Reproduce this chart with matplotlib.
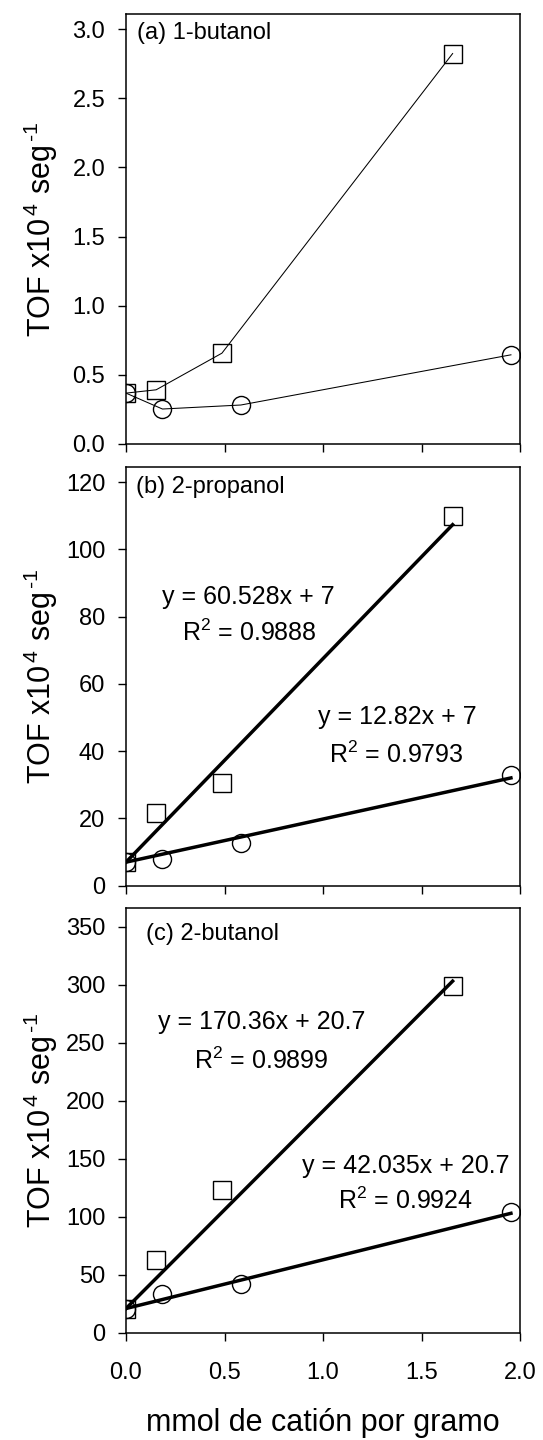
import matplotlib
matplotlib.use("Agg")
import matplotlib.pyplot as plt
import numpy as np

plt.rcParams["font.family"] = ["Liberation Sans", "DejaVu Sans"]
plt.rcParams["mathtext.fontset"] = "custom"
plt.rcParams["mathtext.rm"] = "Liberation Sans"
plt.rcParams["mathtext.it"] = "Liberation Sans"

# mmol de catión por gramo
x_sq = [0.0, 0.153, 0.487, 1.658]
x_ci = [0.0, 0.185, 0.583, 1.954]

# (a) 1-butanol
a_sq = [0.368, 0.392, 0.657, 2.824]
a_ci = [0.368, 0.253, 0.282, 0.645]

# (b) 2-propanol
b_sq = [7.0, 21.6, 30.5, 109.8]
b_ci = [7.0, 7.9, 12.7, 33.0]
b_fit_sq = (60.528, 7.0)
b_fit_ci = (12.82, 7.0)

# (c) 2-butanol
c_sq = [20.7, 62.5, 122.9, 299.1]
c_ci = [20.7, 33.6, 42.0, 103.6]
c_fit_sq = (170.36, 20.7)
c_fit_ci = (42.035, 20.7)

x_ticks = [0.0, 0.5, 1.0, 1.5, 2.0]
ylabel = r"TOF x10$^{\,4}$ seg$^{\,\text{-}1}$"
xlabel = "mmol de catión por gramo"

W, H = 543, 1440
fig = plt.figure(figsize=(W / 100, H / 100), dpi=100)

left, right = 126, 520
boxes = [(14, 444), (466.7, 885.7), (908.3, 1332.5)]
axes = []
for top, bot in boxes:
    ax = fig.add_axes([left / W, 1 - bot / H, (right - left) / W, (bot - top) / H])
    axes.append(ax)

mk = dict(mfc="none", mec="black", mew=1.0, ms=13, color="black")

for ax in axes:
    ax.set_xlim(0, 2.0)
    ax.set_xticks(x_ticks)
    ax.tick_params(direction="out", length=6, width=1.0, labelsize=17)
    ax.tick_params(axis="y", pad=9)
    ax.tick_params(axis="x", pad=15)
    for s in ax.spines.values():
        s.set_linewidth(1.1)
    ax.set_ylabel(ylabel, fontsize=22)
    ax.yaxis.set_label_coords(-0.1675, 0.5)

# (a)
ax = axes[0]
ax.plot(x_sq, a_sq, "-", lw=0.75, color="black")
ax.plot(x_ci, a_ci, "-", lw=0.75, color="black")
ax.plot(x_sq, a_sq, "s", ls="none", **mk)
ax.plot(x_ci, a_ci, "o", ls="none", **mk)
ax.set_ylim(0, 3.11)
ax.set_yticks([0.0, 0.5, 1.0, 1.5, 2.0, 2.5, 3.0])
ax.set_yticklabels(["0.0", "0.5", "1.0", "1.5", "2.0", "2.5", "3.0"])
ax.set_xticklabels([])
ax.text(0.054, 2.97, "(a) 1-butanol", fontsize=17, va="center", ha="left")


def fit_panel(ax, ys_sq, ys_ci, f_sq, f_ci):
    xs = np.array([min(x_sq), max(x_sq)])
    ax.plot(xs, f_sq[0] * xs + f_sq[1], "-", lw=2.5, color="black")
    xc = np.array([min(x_ci), max(x_ci)])
    ax.plot(xc, f_ci[0] * xc + f_ci[1], "-", lw=2.5, color="black")
    ax.plot(x_sq, ys_sq, "s", ls="none", **mk)
    ax.plot(x_ci, ys_ci, "o", ls="none", **mk)


eq = dict(fontsize=18, ha="center", va="center")

# (b)
ax = axes[1]
fit_panel(ax, b_sq, b_ci, b_fit_sq, b_fit_ci)
ax.set_ylim(0, 124.6)
ax.set_yticks([0, 20, 40, 60, 80, 100, 120])
ax.set_xticklabels([])
ax.text(0.051, 118.5, "(b) 2-propanol", fontsize=17, va="center", ha="left")
ax.text(0.623, 85.9, "y = 60.528x + 7", **eq)
ax.text(0.627, 75.1, r"R$^2$ = 0.9888", **eq)
ax.text(1.375, 50.3, "y = 12.82x + 7", **eq)
ax.text(1.373, 38.9, r"R$^2$ = 0.9793", **eq)

# (c)
ax = axes[2]
fit_panel(ax, c_sq, c_ci, c_fit_sq, c_fit_ci)
ax.set_ylim(0, 366)
ax.set_yticks([0, 50, 100, 150, 200, 250, 300, 350])
ax.set_xticklabels(["0.0", "0.5", "1.0", "1.5", "2.0"])
ax.text(0.104, 343.4, "(c) 2-butanol", fontsize=17, va="center", ha="left")
ax.text(0.688, 267.5, "y = 170.36x + 20.7", **eq)
ax.text(0.688, 234.7, r"R$^2$ = 0.9899", **eq)
ax.text(1.419, 143.8, "y = 42.035x + 20.7", **eq)
ax.text(1.419, 114.0, r"R$^2$ = 0.9924", **eq)
ax.set_xlabel(xlabel, fontsize=22)
ax.xaxis.set_label_coords(0.5, -0.178)

fig.savefig("out.png", dpi=100)
